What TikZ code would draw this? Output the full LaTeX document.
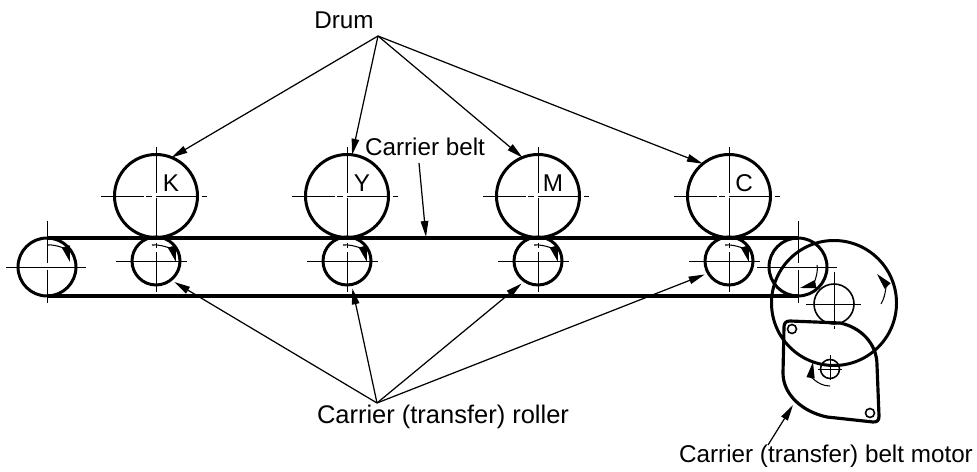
\documentclass[tikz,border=0pt]{standalone}
\usepackage{fontspec}
\setmainfont{Liberation Sans}
\usetikzlibrary{arrows.meta}

\tikzset{
  part/.style={circle, draw, line width=1.7pt, inner sep=0pt, outer sep=0pt},
  drum/.style={part, minimum size=83*0.02cm},
  roller/.style={part, minimum size=48*0.02cm},
  endroller/.style={part, minimum size=58*0.02cm},
  wheel/.style={part, minimum size=125*0.02cm},
  thinring/.style={circle, draw, line width=0.9pt, inner sep=0pt, outer sep=0pt},
  axis/.style={line width=0.55pt},
  outline/.style={line width=1.8pt},
  leader/.style={line width=0.7pt, -{Triangle[length=16*0.02cm, width=7.5*0.02cm]}},
  turn/.style={line width=0.6pt, -{Triangle[length=16*0.02cm, width=8*0.02cm]}},
  label/.style={font=\fontsize{13.8pt}{17pt}\selectfont, inner sep=0pt},
}

\begin{document}
\begin{tikzpicture}[x=0.02cm, y=-0.02cm]
    \useasboundingbox (0,0) rectangle (977,472);

    % ==== Belt rollers ====
    \node[endroller] (rollerL) at (47,267) {};
    \node[endroller] (rollerR) at (798,267) {};
    \draw[outline] (rollerL.north) -- (rollerR.north);
    \draw[outline] (rollerL.south) -- (rollerR.south);

    % Axes of the end rollers
    \foreach \x in {47,798}{
        \draw[axis] (\x-41,267) -- (\x+39,267);
        \draw[axis] (\x,221) -- (\x,263);
        \draw[axis] (\x,270) -- (\x,303);
      }

    % Drums and carrier rollers
    \foreach \x/\n in {156/K,347/Y,538/M,729/C}{
        \node[drum] (drum\n) at (\x,196) {};
        \node[roller] (roller\n) at (\x,261) {};
        \node[label] (letter\n) at (\x+15,183) {\n};
        \draw[axis] (\x-55,196) -- (\x-12,196);
        \draw[axis] (\x-10,196) -- (\x-4,196);
        \draw[axis] (\x,196) -- (\x+41,196);
        \draw[axis] (\x+46,196) -- (\x+51,196);
        \draw[axis] (\x,147) -- (\x,193);
        \draw[axis] (\x,198) -- (\x,237);
        \draw[axis] (\x,243) -- (\x,248);
        \draw[axis] (\x,252) -- (\x,292);
        \draw[axis] (\x-40,261) -- (\x+31,261);
        \draw[turn] (\x-4,245) .. controls (\x+8,244) and (\x+17,251) .. (\x+20,262);
      }
    \draw[turn] (47,245) .. controls (58,244) and (67,251) .. (70,262);

    % ==== Drive wheel and motor ====
    \node[wheel] (wheel) at (834,303) {};
    \node[thinring, minimum size=40*0.02cm] (pulley) at (834,304) {};
    \draw[axis] (806,304) -- (861,304);
    \draw[axis] (834,272) -- (834,323);
    \draw[axis] (834,326) -- (834,329);

    \draw[outline, line join=round] (790,321)
      -- (840,323)
      .. controls (860,327) and (877,343) .. (877,365)
      -- (879,416) .. controls (879,421) and (877,422) .. (873,422)
      -- (827,417)
      .. controls (803,412) and (783,395) .. (783,373)
      -- (784,327) .. controls (784,323) and (786,321) .. (790,321) -- cycle;

    \node[thinring, minimum size=9*0.02cm] (holeA) at (792,329) {};
    \node[thinring, minimum size=9*0.02cm] (holeB) at (870,413) {};
    \node[thinring, minimum size=19*0.02cm] (shaft) at (830,369) {};
    \draw[axis] (818,369) -- (842,369);
    \draw[axis] (830,355) -- (830,380);

    % Rotation arrows at the drive end
    \draw[turn] (817,265) .. controls (819,274) and (812,285) .. (800,288);
    \draw[turn] (881,304) .. controls (887,294) and (885,283) .. (877,274);
    \draw[turn] (830,386) .. controls (817,386) and (811,375) .. (813,362);

    % ==== Labels and leaders ====
    \node[label] (drumlabel) at (344,20) {Drum};
    \node[label] (beltlabel) at (425,147) {Carrier belt};
    \node[label, font=\fontsize{14.5pt}{17pt}\selectfont] (rollerlabel) at (443,417) {Carrier (transfer) roller};
    \node[label] (motorlabel) at (826,456) {Carrier (transfer) belt motor};

    \coordinate (drumapex) at (378,36);
    \coordinate (rollerapex) at (377,403);
    \coordinate (beltfoot) at (419,163);
    \coordinate (belttip) at (426,237);
    \coordinate (motorfoot) at (768,445);
    \coordinate (motortip) at (793,405);

    \foreach \n/\a in {K/-49,Y/-79,M/-126,C/-151}{
        \draw[leader] (rollerapex) -- ([shift={(\a:2.2pt)}]roller\n.\a);
      }
    \foreach \n/\a in {K/68,Y/83,M/112,C/129}{
        \draw[leader] (drumapex) -- (drum\n.\a);
      }
    \draw[leader] (beltfoot) -- (belttip);
    \draw[leader] (motorfoot) -- (motortip);
  \end{tikzpicture}
\end{document}
